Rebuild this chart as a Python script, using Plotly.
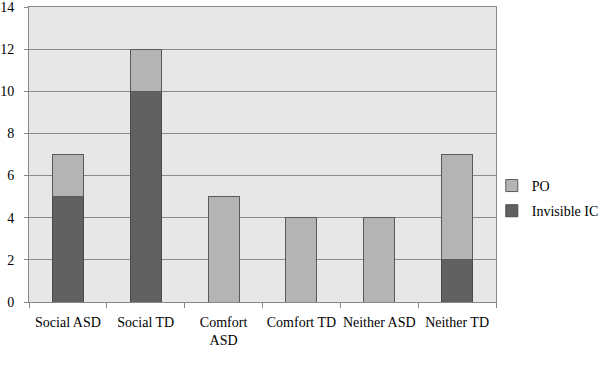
import plotly.graph_objects as go

categories = ["Social ASD", "Social TD", "Comfort<br>ASD", "Comfort TD", "Neither ASD", "Neither TD"]
invisible_ic = [5, 10, 0, 0, 0, 2]
po = [2, 2, 5, 4, 4, 5]
y_ticks = [0, 2, 4, 6, 8, 10, 12, 14]

fig = go.Figure()
fig.add_trace(go.Bar(x=categories, y=invisible_ic, name="Invisible IC", legendgroup="ic",
                     legendrank=2,
                     marker=dict(color="#616161", line=dict(color="#4a4a4a", width=1))))
fig.add_trace(go.Bar(x=categories, y=po, name="PO", legendgroup="po",
                     legendrank=1,
                     marker=dict(color="#b4b4b4", line=dict(color="#5a5a5a", width=1))))

fig.update_layout(
    barmode="stack",
    bargap=0.6,
    width=599, height=378,
    margin=dict(l=29, r=103, t=7, b=76, autoexpand=False),
    paper_bgcolor="white",
    plot_bgcolor="#e7e7e7",
    font=dict(family="Liberation Serif, DejaVu Serif, serif", size=14, color="black"),
    legend=dict(x=0.991, y=0.351, xanchor="left", yanchor="middle",
                traceorder="grouped", font=dict(size=14),
                bgcolor="rgba(0,0,0,0)",
                itemwidth=30, tracegroupgap=4),
    showlegend=True,
)
fig.update_xaxes(
    tickson="boundaries", ticks="outside", ticklen=5, tickcolor="#888888",
    tickangle=0, automargin=False, ticklabelstandoff=7,
    showline=True, linecolor="#888888", linewidth=1, mirror=True,
    showgrid=False,
)
fig.update_yaxes(
    range=[0, 14], tickvals=y_ticks, ticks="outside", ticklen=4, tickcolor="#888888",
    automargin=False, ticklabeloverflow="allow", ticklabelstandoff=7,
    showline=True, linecolor="#888888", linewidth=1, mirror=True,
    showgrid=True, gridcolor="#8a8a8a", gridwidth=1, zeroline=False,
)

fig.write_html("out.html", config={"displayModeBar": False},
               post_script="document.body.style.margin='0';")
